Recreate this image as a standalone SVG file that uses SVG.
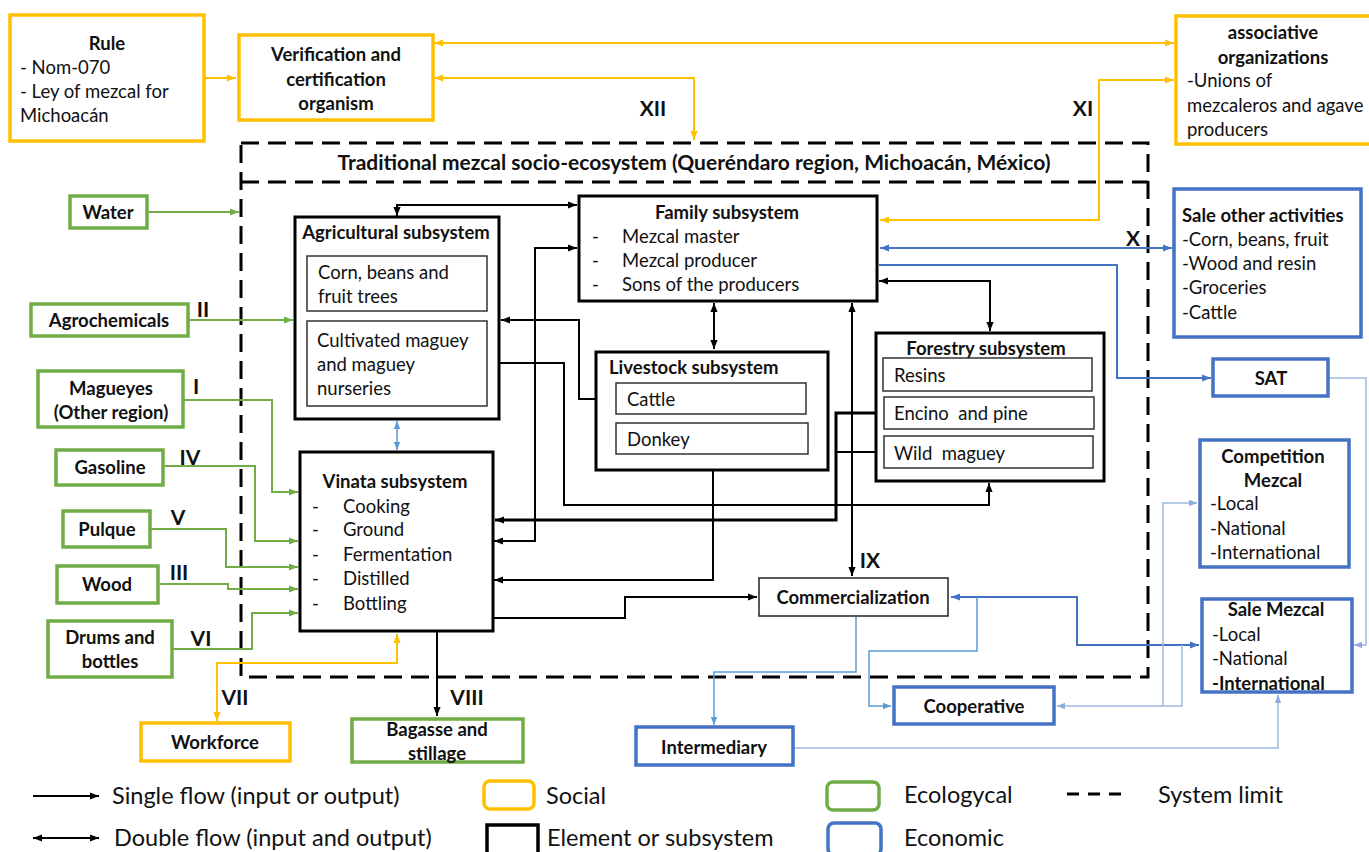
<svg xmlns="http://www.w3.org/2000/svg" width="1369" height="852" viewBox="0 0 1369 852">
<style>
text{font-family:Lato,"Liberation Sans",sans-serif;font-size:18.5px;fill:#111}
.b{font-weight:bold}
.c{text-anchor:middle}
.t{font-size:21px;font-weight:bold}
.num{font-size:21px;font-weight:bold}
.lg{font-size:23.5px}
.soc{fill:#fff;stroke:#FFC000;stroke-width:3.5}
.eco{fill:#fff;stroke:#70AD47;stroke-width:3.5}
.ecn{fill:#fff;stroke:#4472C4;stroke-width:3.5}
.sub{fill:#fff;stroke:#000;stroke-width:3}
.inn{fill:#fff;stroke:#333;stroke-width:1.5}
.el{fill:#fff;stroke:#222;stroke-width:1.5}
.ly{fill:none;stroke:#FFC000;stroke-width:2}
.lgr{fill:none;stroke:#70AD47;stroke-width:2}
.lb{fill:none;stroke:#4472C4;stroke-width:2}
.llb{fill:none;stroke:#5B9BD5;stroke-width:1.5}
.lvb{fill:none;stroke:#9DB9E0;stroke-width:1.5}
.lk{fill:none;stroke:#000;stroke-width:2}
.lkt{fill:none;stroke:#000;stroke-width:3}
.dash{fill:none;stroke:#000;stroke-width:3;stroke-dasharray:18 9}
</style>
<defs>
<marker id="ak" viewBox="0 0 10 10" refX="10" refY="5" markerWidth="9" markerHeight="9" markerUnits="userSpaceOnUse" orient="auto-start-reverse"><path d="M0,1 L10,5 L0,9 z" fill="#000"/></marker>
<marker id="ay" viewBox="0 0 10 10" refX="10" refY="5" markerWidth="9" markerHeight="9" markerUnits="userSpaceOnUse" orient="auto-start-reverse"><path d="M0,1 L10,5 L0,9 z" fill="#FFC000"/></marker>
<marker id="ag" viewBox="0 0 10 10" refX="10" refY="5" markerWidth="9" markerHeight="9" markerUnits="userSpaceOnUse" orient="auto-start-reverse"><path d="M0,1 L10,5 L0,9 z" fill="#70AD47"/></marker>
<marker id="ab" viewBox="0 0 10 10" refX="10" refY="5" markerWidth="9" markerHeight="9" markerUnits="userSpaceOnUse" orient="auto-start-reverse"><path d="M0,1 L10,5 L0,9 z" fill="#4472C4"/></marker>
<marker id="alb" viewBox="0 0 10 10" refX="10" refY="5" markerWidth="8" markerHeight="8" markerUnits="userSpaceOnUse" orient="auto-start-reverse"><path d="M0,1 L10,5 L0,9 z" fill="#5B9BD5"/></marker>
<marker id="avb" viewBox="0 0 10 10" refX="10" refY="5" markerWidth="8" markerHeight="8" markerUnits="userSpaceOnUse" orient="auto-start-reverse"><path d="M0,1 L10,5 L0,9 z" fill="#8FAADC"/></marker>
</defs>
<rect width="1369" height="852" fill="#fff"/>

<g id="system-limit">
<rect class="dash" x="241" y="143" width="907" height="534"/>
<path class="dash" d="M241,182 H1148"/>
<text class="t c" x="694" y="170">Traditional mezcal socio-ecosystem (Queréndaro region, Michoacán, México)</text>
</g>

<g id="connectors">
<!-- yellow -->
<path class="ly" d="M204,78 H236" marker-end="url(#ay)"/>
<path class="ly" d="M434,43 H1174" marker-start="url(#ay)" marker-end="url(#ay)"/>
<path class="ly" d="M434,78 H694 V140" marker-start="url(#ay)" marker-end="url(#ay)"/>
<path class="ly" d="M1174,80 H1099 V220 H880" marker-start="url(#ay)" marker-end="url(#ay)"/>
<path class="ly" d="M397,634 V663 H217 V721" marker-start="url(#ay)" marker-end="url(#ay)"/>
<!-- green -->
<path class="lgr" d="M147,212 H239" marker-end="url(#ag)"/>
<path class="lgr" d="M188,320 H293" marker-end="url(#ag)"/>
<path class="lgr" d="M183,400 H272 V492 H298" marker-end="url(#ag)"/>
<path class="lgr" d="M163,466 H255 V541 H298" marker-end="url(#ag)"/>
<path class="lgr" d="M150,529 H226 V567 H298" marker-end="url(#ag)"/>
<path class="lgr" d="M158,584 H228 V589 H298" marker-end="url(#ag)"/>
<path class="lgr" d="M172,649 H252 V613 H298" marker-end="url(#ag)"/>
<!-- blue -->
<path class="lb" d="M880,248 H1172" marker-start="url(#ab)" marker-end="url(#ab)"/>
<path class="lb" d="M879,265 H1117 V378 H1211" marker-end="url(#ab)"/>
<path class="lb" d="M951,597 H1077 V645 H1199" marker-start="url(#ab)" marker-end="url(#ab)"/>
<path class="lvb" d="M1328,378 H1366 V645 H1354" marker-end="url(#avb)"/>
<path class="llb" d="M977,597 V651 H869 V706 H891" marker-end="url(#alb)"/>
<path class="llb" d="M856,617 V672 H714 V725" marker-end="url(#alb)"/>
<path class="lvb" d="M1182,645 V706 H1057" marker-end="url(#avb)"/>
<path class="lvb" d="M1163,706 V503 H1197" marker-end="url(#avb)"/>
<path class="lvb" d="M794,748 H1278 V695" marker-end="url(#avb)"/>
<path class="llb" d="M397,421 V450" marker-start="url(#alb)" marker-end="url(#alb)"/>
<!-- black -->
<path class="lk" d="M397,216 V205 H577" marker-start="url(#ak)" marker-end="url(#ak)"/>
<path class="lk" d="M494,541 H535 V248 H577" marker-start="url(#ak)" marker-end="url(#ak)"/>
<path class="lk" d="M501,320 H579 V399 H614" marker-start="url(#ak)" marker-end="url(#ak)"/>
<path class="lk" d="M487,363 H564 V505 H989 V483" marker-end="url(#ak)"/>
<path class="lk" d="M714,303 V349" marker-start="url(#ak)" marker-end="url(#ak)"/>
<path class="lk" d="M879,281 H990 V331" marker-start="url(#ak)" marker-end="url(#ak)"/>
<path class="lk" d="M852,303 V576" marker-start="url(#ak)" marker-end="url(#ak)"/>
<path class="lkt" d="M884,413 H836 V520 H495" marker-end="url(#ak)"/>
<path class="lk" d="M884,452 H836"/>
<path class="lk" d="M713,455 V580 H494" marker-end="url(#ak)"/>
<path class="lk" d="M493,618 H625 V597 H757" marker-end="url(#ak)"/>
<path class="lk" d="M437,632 V716" marker-end="url(#ak)"/>
</g>

<g id="labels">
<text class="num c" x="653" y="116">XII</text>
<text class="num c" x="1083" y="116">XI</text>
<text class="num c" x="1133" y="246">X</text>
<text class="num c" x="203" y="317">II</text>
<text class="num c" x="196" y="394">I</text>
<text class="num c" x="190" y="465">IV</text>
<text class="num c" x="178" y="525">V</text>
<text class="num c" x="179" y="580">III</text>
<text class="num c" x="201" y="646">VI</text>
<text class="num c" x="235" y="705">VII</text>
<text class="num c" x="467" y="705">VIII</text>
<text class="num c" x="870" y="568">IX</text>
</g>

<g id="rule">
<rect class="soc" x="10" y="15" width="194" height="126"/>
<text class="b c" x="107" y="50">Rule</text>
<text x="20" y="74">- Nom-070</text>
<text x="20" y="98">- Ley of mezcal for</text>
<text x="20" y="122">Michoacán</text>
</g>
<g id="verification">
<rect class="soc" x="239" y="35" width="194" height="85"/>
<text class="b c" x="336" y="61">Verification and</text>
<text class="b c" x="336" y="86">certification</text>
<text class="b c" x="336" y="110">organism</text>
</g>
<g id="associative">
<rect class="soc" x="1176" y="16" width="200" height="128"/>
<text class="b c" x="1273" y="39">associative</text>
<text class="b c" x="1273" y="64">organizations</text>
<text x="1187" y="87">-Unions of</text>
<text x="1187" y="112">mezcaleros and agave</text>
<text x="1187" y="136">producers</text>
</g>

<g id="water"><rect class="eco" x="70" y="196" width="77" height="32"/><text class="b c" x="108" y="219">Water</text></g>
<g id="agrochemicals"><rect class="eco" x="31" y="304" width="157" height="32"/><text class="b c" x="109" y="327">Agrochemicals</text></g>
<g id="magueyes"><rect class="eco" x="38" y="371" width="145" height="56"/><text class="b c" x="111" y="395">Magueyes</text><text class="b c" x="111" y="419">(Other region)</text></g>
<g id="gasoline"><rect class="eco" x="56" y="450" width="107" height="35"/><text class="b c" x="110" y="474">Gasoline</text></g>
<g id="pulque"><rect class="eco" x="63" y="511" width="87" height="36"/><text class="b c" x="107" y="536">Pulque</text></g>
<g id="wood"><rect class="eco" x="57" y="566" width="101" height="37"/><text class="b c" x="107" y="591">Wood</text></g>
<g id="drums"><rect class="eco" x="48" y="621" width="124" height="56"/><text class="b c" x="110" y="644">Drums and</text><text class="b c" x="110" y="668">bottles</text></g>

<g id="workforce"><rect class="soc" x="141" y="723" width="149" height="38"/><text class="b c" x="215" y="749">Workforce</text></g>
<g id="bagasse"><rect class="eco" x="352" y="719" width="171" height="43"/><text class="b c" x="437" y="736">Bagasse and</text><text class="b c" x="437" y="760">stillage</text></g>
<g id="intermediary"><rect class="ecn" x="636" y="727" width="157" height="38"/><text class="b c" x="714" y="754">Intermediary</text></g>
<g id="cooperative"><rect class="ecn" x="894" y="687" width="160" height="37"/><text class="b c" x="974" y="713">Cooperative</text></g>

<g id="sale-other">
<rect class="ecn" x="1174" y="189" width="187" height="148"/>
<text class="b" x="1182" y="222">Sale other activities</text>
<text x="1182" y="246">-Corn, beans, fruit</text>
<text x="1182" y="270">-Wood and resin</text>
<text x="1182" y="294">-Groceries</text>
<text x="1182" y="319">-Cattle</text>
</g>
<g id="sat"><rect class="ecn" x="1213" y="359" width="115" height="37"/><text class="b c" x="1271" y="385">SAT</text></g>
<g id="competition">
<rect class="ecn" x="1200" y="440" width="149" height="127"/>
<text class="b c" x="1273" y="463">Competition</text>
<text class="b c" x="1273" y="487">Mezcal</text>
<text x="1210" y="510">-Local</text>
<text x="1210" y="535">-National</text>
<text x="1210" y="559">-International</text>
</g>
<g id="sale-mezcal">
<rect class="ecn" x="1202" y="599" width="150" height="93"/>
<text class="b c" x="1276" y="616">Sale Mezcal</text>
<text x="1212" y="641">-Local</text>
<text x="1212" y="665">-National</text>
<text class="b" x="1212" y="690">-International</text>
</g>

<g id="family">
<rect class="sub" x="579" y="196" width="298" height="105"/>
<text class="b c" x="727" y="219">Family subsystem</text>
<text x="592" y="243">-</text><text x="622" y="243">Mezcal master</text>
<text x="592" y="267">-</text><text x="622" y="267">Mezcal producer</text>
<text x="592" y="291">-</text><text x="622" y="291">Sons of the producers</text>
</g>
<g id="agricultural">
<rect class="sub" x="295" y="217" width="204" height="202"/>
<text class="b c" x="396" y="239">Agricultural subsystem</text>
<rect class="inn" x="307" y="256" width="180" height="55"/>
<text x="318" y="279">Corn, beans and</text>
<text x="318" y="303">fruit trees</text>
<rect class="inn" x="307" y="321" width="180" height="85"/>
<text x="317" y="347">Cultivated maguey</text>
<text x="317" y="371">and maguey</text>
<text x="317" y="395">nurseries</text>
</g>
<g id="livestock">
<rect class="sub" x="596" y="352" width="232" height="118"/>
<text class="b" x="609" y="374">Livestock subsystem</text>
<rect class="inn" x="616" y="383" width="190" height="31"/>
<text x="627" y="406">Cattle</text>
<rect class="inn" x="616" y="423" width="192" height="31"/>
<text x="627" y="446">Donkey</text>
</g>
<g id="forestry">
<rect class="sub" x="876" y="333" width="228" height="148"/>
<text class="b c" x="986" y="355">Forestry subsystem</text>
<rect class="inn" x="883" y="358" width="209" height="33"/>
<text x="894" y="382">Resins</text>
<rect class="inn" x="884" y="397" width="210" height="32"/>
<text x="894" y="420" xml:space="preserve">Encino  and pine</text>
<rect class="inn" x="884" y="436" width="209" height="32"/>
<text x="894" y="460" xml:space="preserve">Wild  maguey</text>
</g>
<g id="vinata">
<rect class="sub" x="300" y="452" width="193" height="179"/>
<text class="b c" x="395" y="488">Vinata subsystem</text>
<text x="312" y="513">-</text><text x="343" y="513">Cooking</text>
<text x="312" y="536">-</text><text x="343" y="536">Ground</text>
<text x="312" y="561">-</text><text x="343" y="561">Fermentation</text>
<text x="312" y="585">-</text><text x="343" y="585">Distilled</text>
<text x="312" y="610">-</text><text x="343" y="610">Bottling</text>
</g>
<g id="commercialization">
<rect class="el" x="759" y="578" width="189" height="38"/>
<text class="b c" x="853" y="604">Commercialization</text>
</g>

<g id="legend">
<path class="lk" d="M33,796 H99" marker-end="url(#ak)"/>
<text class="lg" x="112" y="804">Single flow (input or output)</text>
<path class="lk" d="M33,838 H99" marker-start="url(#ak)" marker-end="url(#ak)"/>
<text class="lg" x="114" y="846">Double flow (input and output)</text>
<rect class="soc" x="484" y="781" width="50" height="28" rx="6"/>
<text class="lg" x="546" y="804">Social</text>
<rect x="487" y="825" width="51" height="30" fill="#fff" stroke="#000" stroke-width="3.5"/>
<text class="lg" x="547" y="846">Element or subsystem</text>
<rect class="eco" x="827" y="782" width="52" height="28" rx="6"/>
<text class="lg" x="904" y="803">Ecologycal</text>
<rect class="ecn" x="828" y="823" width="53" height="32" rx="6"/>
<text class="lg" x="904" y="846">Economic</text>
<path class="dash" d="M1067,794 H1125" style="stroke-dasharray:12 9"/>
<text class="lg" x="1158" y="803">System limit</text>
</g>
</svg>
